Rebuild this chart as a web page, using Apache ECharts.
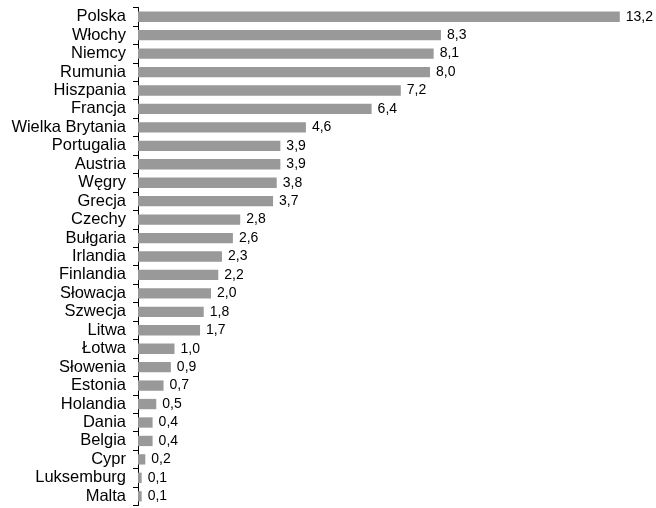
<!DOCTYPE html>
<html><head><meta charset="utf-8">
<script src="https://cdn.jsdelivr.net/npm/echarts@6/dist/echarts.min.js"></script>
<style>html,body{margin:0;padding:0;background:#fff}#c{width:656px;height:508px}</style>
</head><body><div id="c"></div>
<script>
const categories = ["Polska","Włochy","Niemcy","Rumunia","Hiszpania","Francja","Wielka Brytania","Portugalia","Austria","Węgry","Grecja","Czechy","Bułgaria","Irlandia","Finlandia","Słowacja","Szwecja","Litwa","Łotwa","Słowenia","Estonia","Holandia","Dania","Belgia","Cypr","Luksemburg","Malta"];
const values = [13.2,8.3,8.1,8.0,7.2,6.4,4.6,3.9,3.9,3.8,3.7,2.8,2.6,2.3,2.2,2.0,1.8,1.7,1.0,0.9,0.7,0.5,0.4,0.4,0.2,0.1,0.1];
const chart = echarts.init(document.getElementById('c'));
chart.setOption({
  animation:false,
  grid:{left:138,right:7,top:7.5,bottom:2.5,containLabel:false},
  xAxis:{type:'value',min:0,max:14,show:false},
  yAxis:{type:'category',data:categories,inverse:true,
    axisLine:{show:true,lineStyle:{color:'#000',width:1}},
    axisTick:{show:true,interval:0,length:5,lineStyle:{color:'#000'}},
    axisLabel:{interval:0,color:'#000',fontFamily:'Liberation Sans, Arial',fontSize:16.5,margin:12}},
  series:[{type:'bar',data:values,barWidth:'56%',
    itemStyle:{color:'#999999'},
    label:{show:true,position:'right',distance:6,color:'#000',fontFamily:'Liberation Sans, Arial',fontSize:14,
      formatter:p=>p.value.toFixed(1).replace('.',',')}}]
});
</script></body></html>
